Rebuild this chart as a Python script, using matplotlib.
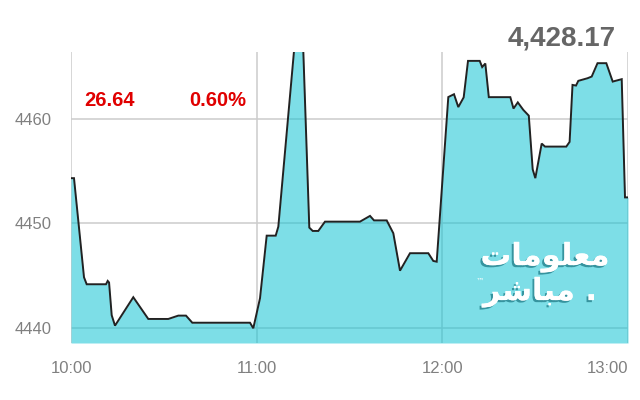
import matplotlib
matplotlib.use("Agg")
import matplotlib.pyplot as plt
import matplotlib.patheffects as pe
import numpy as np

# minutes after 10:00
minutes = [0, 0.97, 4.2, 5.07, 11.31, 11.86, 12.3, 13.15, 14.22, 20.13, 24.98, 31.44,
           34.68, 37.16, 39.2, 57.85, 58.91, 61.08, 63.24, 66.15, 67.0, 72.07, 75.07,
           77.01, 78.11, 79.92, 82.08, 93.39, 96.63, 97.92, 102.02, 104.16, 106.32,
           109.55, 115.47, 117.08, 118.18, 121.93, 123.77, 125.16, 126.9, 128.3,
           132.08, 132.88, 133.89, 135.02, 141.97, 143.0, 144.39, 146.17, 147.94,
           149.2, 150.05, 152.11, 153.18, 160.06, 161.13, 162.07, 163.2, 163.94,
           166.92, 168.27, 170.15, 172.99, 175.06, 177.97, 179.03, 180.0]
values = [4454.33, 4454.33, 4444.85, 4444.18, 4444.18, 4444.50, 4444.35, 4441.22,
          4440.22, 4442.94, 4440.86, 4440.86, 4441.18, 4441.18, 4440.5, 4440.5,
          4439.97, 4442.84, 4448.83, 4448.83, 4449.69, 4466.5, 4466.5, 4449.6,
          4449.28, 4449.28, 4450.17, 4450.17, 4450.72, 4450.29, 4450.29, 4449.06,
          4445.48, 4447.15, 4447.15, 4446.41, 4446.34, 4462.09, 4462.36, 4461.13,
          4462.06, 4465.55, 4465.55, 4464.96, 4465.30, 4462.08, 4462.08, 4460.99,
          4461.58, 4460.86, 4460.31, 4455.17, 4454.33, 4457.64, 4457.35, 4457.35,
          4457.80, 4463.25, 4463.19, 4463.64, 4463.89, 4464.05, 4465.33, 4465.33,
          4463.57, 4463.80, 4452.49, 4452.49]

x_ticks = [0, 60, 120, 180]
x_labels = ["10:00", "11:00", "12:00", "13:00"]
y_ticks = [4440, 4450, 4460]

change_text = "26.64"
pct_text = "0.60%"
index_text = "4,428.17"
logo_line1 = "\uFE95\uFE8E\uFEE3\uFEEE\uFEE0\uFECC\uFEE3"   # معلومات (visual order)
logo_line2 = "\uFEAE\uFEB7\uFE8E\uFE92\uFEE3"               # مباشر (visual order)

W, H = 640, 400
fig = plt.figure(figsize=(6.4, 4.0), dpi=100)
ax = fig.add_axes([71 / W, 1 - 343 / H, (628 - 71) / W, (343 - 52) / H])

ax.set_xlim(0, 180)
ax.set_ylim(4438.56, 4466.4)
ax.set_axisbelow(True)
ax.grid(True, color="#cccccc", lw=1.1)
ax.fill_between(minutes, values, 4438.56, color=(0.07, 0.77, 0.835), alpha=0.55, lw=0, zorder=2)
ax.plot(minutes, values, color="#222222", lw=1.4, zorder=3, solid_joinstyle="miter")

for s in ax.spines.values():
    s.set_visible(False)

tick_font = ["Liberation Sans Narrow", "Liberation Sans"]
ax.set_xticks(x_ticks)
ax.set_xticklabels(x_labels, family=tick_font, fontsize=12, color="#808080")
ax.set_yticks(y_ticks)
ax.set_yticklabels([str(v) for v in y_ticks], family=tick_font, fontsize=12, color="#808080")
ax.tick_params(length=0)
ax.tick_params(axis="y", pad=14)
ax.tick_params(axis="x", pad=13)
ax.get_xticklabels()[-1].set_horizontalalignment("right")

fig.text(84 / W, 1 - 101 / H, change_text, color="#e00000", fontsize=14.5,
         fontweight="bold", family="Liberation Sans", ha="left", va="center")
fig.text(189 / W, 1 - 101 / H, pct_text, color="#e00000", fontsize=14.5,
         fontweight="bold", family="Liberation Sans", ha="left", va="center")
fig.text(616 / W, 1 - 38 / H, index_text, color="#666666", fontsize=20,
         fontweight="bold", family="Liberation Sans", ha="right", va="center")

shadow = [pe.withSimplePatchShadow(offset=(-1.5, -1.5), shadow_rgbFace="#2f8c97", alpha=0.9), pe.Normal()]
fig.text(545 / W, 1 - 257 / H, logo_line1, color="white", fontsize=22, fontweight="bold",
         family="DejaVu Sans", ha="center", va="center", path_effects=shadow, zorder=5)
fig.text(540 / W, 1 - 292 / H, logo_line2 + " .", color="white", fontsize=22, fontweight="bold",
         family="DejaVu Sans", ha="center", va="center", path_effects=shadow, zorder=5)
fig.text(480 / W, 1 - 281 / H, "\u2122", color="white", fontsize=6, family="DejaVu Sans",
         ha="center", va="center", zorder=5)

fig.savefig("out.png", dpi=100)
